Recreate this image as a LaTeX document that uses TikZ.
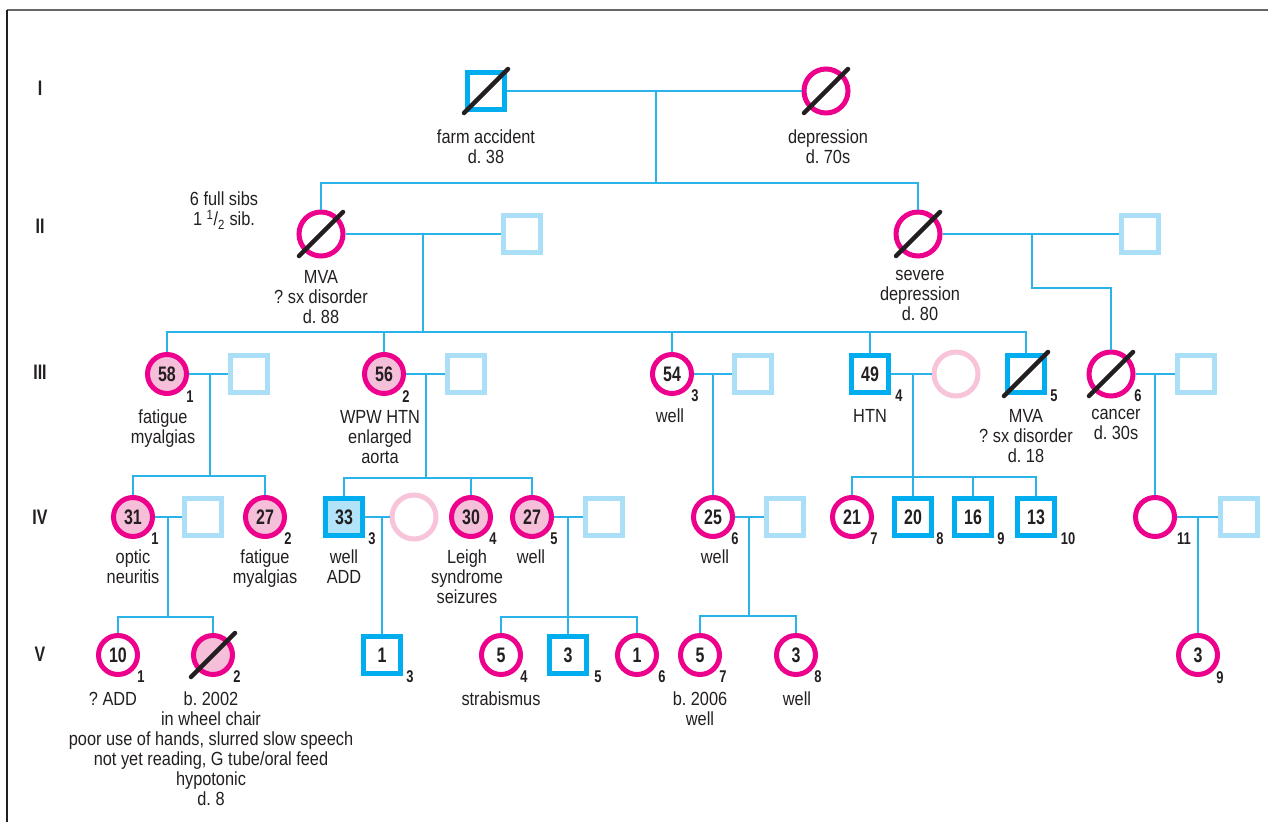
\documentclass[tikz,border=0pt]{standalone}
\usepackage{fontspec}
\setmainfont{Liberation Sans}[FakeStretch=0.86]
\newfontfamily\numfont{Liberation Sans}[FakeStretch=0.76]
\usetikzlibrary{calc}
\frenchspacing
\definecolor{mag}{HTML}{EC008C}
\definecolor{pinkfill}{HTML}{F5BFD9}
\definecolor{lpink}{HTML}{F7C4DA}
\definecolor{dblue}{HTML}{00AEEF}
\definecolor{lblue}{HTML}{ABDFF7}
\definecolor{lbfill}{HTML}{B3E3F8}
\definecolor{cline}{HTML}{29B3E8}
\definecolor{ink}{HTML}{231F20}
\definecolor{framegray}{HTML}{666666}
\tikzset{
 conn/.style={draw=cline, line width=1.3pt},
 fem/.style={circle, draw=mag, line width=5pt, minimum size=39pt, inner sep=0pt, fill=white, text=ink, font=\numfont\bfseries\fontsize{21}{21}\selectfont},
 femA/.style={fem, fill=pinkfill},
 femD/.style={fem, minimum size=44pt},
 mal/.style={rectangle, draw=dblue, line width=5pt, minimum size=37pt, inner sep=0pt, fill=white, text=ink, font=\numfont\bfseries\fontsize{21}{21}\selectfont},
 spm/.style={rectangle, draw=lblue, line width=5pt, minimum size=37pt, inner sep=0pt, fill=white},
 spf/.style={circle, draw=lpink, line width=5pt, minimum size=44pt, inner sep=0pt, fill=white},
 idx/.style={font=\numfont\bfseries\fontsize{17}{17}\selectfont, text=ink, inner sep=0pt},
 txt/.style={font=\fontsize{19}{20}\selectfont, text=ink, align=center, inner sep=0pt, anchor=north},
 gen/.style={font=\numfont\bfseries\fontsize{21}{21}\selectfont, text=ink, inner sep=0pt},
 dead/.style={line width=4.5pt, draw=ink, line cap=round},
}
\newcommand\slashit[1]{\draw[dead] ([shift={(-22,22)}]#1.center) -- ([shift={(22,-22)}]#1.center);}
\begin{document}
\begin{tikzpicture}[x=1pt,y=-1pt]
\useasboundingbox (0,0) rectangle (1268,822);
% frame
\draw[line width=2pt, draw=framegray] (7,10) -- (1268,10);
\draw[line width=1.5pt, draw=ink] (7,10) -- (7,822);
% generation labels
\node[gen] (g1) at (40,88) {I};
\node[gen] (g2) at (40,226) {II};
\node[gen] (g3) at (40,372) {III};
\node[gen] (g4) at (40,517) {IV};
\node[gen] (g5) at (40,654) {V};
% ---------- coordinates
\coordinate (m1) at (656,91);
\coordinate (s1) at (656,183);
\coordinate (m2) at (423,234);
\coordinate (s2) at (423,332);
\coordinate (m3) at (1032,234);
\coordinate (k3) at (1032,288);
\coordinate (m31) at (210,374);
\coordinate (s31) at (210,476);
\coordinate (m32) at (426,374);
\coordinate (s32) at (426,478);
\coordinate (m33) at (713,374);
\coordinate (m34) at (913,374);
\coordinate (s34) at (913,477);
\coordinate (m36) at (1155,374);
\coordinate (m41) at (168,517);
\coordinate (s41) at (168,617);
\coordinate (m43) at (382,517);
\coordinate (m45) at (568,517);
\coordinate (s45) at (568,617);
\coordinate (m46) at (749,517);
\coordinate (s46) at (749,616);
\coordinate (m411) at (1198,517);
% ---------- Generation I
\node[mal] (i1) at (486,91) {};
\node[femD] (i2) at (826,91) {};
% ---------- Generation II
\node[femD] (ii1) at (321,234) {};
\node[spm] (ii2) at (522,234) {};
\node[femD] (ii3) at (918,234) {};
\node[spm] (ii4) at (1140,234) {};
% ---------- Generation III
\node[femA] (iii1) at (167,374) {58};
\node[spm] (iii1s) at (249,374) {};
\node[femA] (iii2) at (384,374) {56};
\node[spm] (iii2s) at (466,374) {};
\node[fem] (iii3) at (672,374) {54};
\node[spm] (iii3s) at (753,374) {};
\node[mal] (iii4) at (870,374) {49};
\node[spf] (iii4w) at (956,374) {};
\node[mal] (iii5) at (1026,374) {};
\node[femD] (iii6) at (1111,374) {};
\node[spm] (iii6s) at (1196,374) {};
% ---------- Generation IV
\node[femA] (iv1) at (133,517) {31};
\node[spm] (iv1s) at (203,517) {};
\node[femA] (iv2) at (265,517) {27};
\node[mal, fill=lbfill] (iv3) at (344,517) {33};
\node[spf] (iv3w) at (414,517) {};
\node[femA] (iv4) at (471,517) {30};
\node[femA] (iv5) at (532,517) {27};
\node[spm] (iv5s) at (604,517) {};
\node[fem] (iv6) at (713,517) {25};
\node[spm] (iv6s) at (785,517) {};
\node[fem] (iv7) at (852,517) {21};
\node[mal] (iv8) at (913,517) {20};
\node[mal] (iv9) at (973,517) {16};
\node[mal] (iv10) at (1036,517) {13};
\node[fem] (iv11) at (1155,517) {};
\node[spm] (iv11s) at (1239,517) {};
% ---------- Generation V
\node[fem] (v1) at (118,655) {10};
\node[femA] (v2) at (213,655) {};
\node[mal] (v3) at (382,655) {1};
\node[fem] (v4) at (501,655) {5};
\node[mal] (v5) at (568,655) {3};
\node[fem] (v6) at (637,655) {1};
\node[fem] (v7) at (700,655) {5};
\node[fem] (v8) at (796,655) {3};
\node[fem] (v9) at (1198,655) {3};
% ---------- connectors
\draw[conn] (i1) -- (i2);
\draw[conn] (m1) -- (s1);
\draw[conn] (ii1.north) |- (s1) -| (ii3.north);
\draw[conn] (ii1) -- (ii2);
\draw[conn] (m2) -- (s2);
\draw[conn] (iii1.north) |- (s2) -| (iii5.north);
\draw[conn] (iii2.north) -- (iii2.north |- s2);
\draw[conn] (iii3.north) -- (iii3.north |- s2);
\draw[conn] (iii4.north) -- (iii4.north |- s2);
\draw[conn] (ii3) -- (ii4);
\draw[conn] (m3) -- (k3) -| (iii6.north);
\draw[conn] (iii1) -- (iii1s);
\draw[conn] (m31) -- (s31);
\draw[conn] (iv1.north) |- (s31) -| (iv2.north);
\draw[conn] (iii2) -- (iii2s);
\draw[conn] (m32) -- (s32);
\draw[conn] (iv3.north) |- (s32) -| (iv5.north);
\draw[conn] (iv4.north) -- (iv4.north |- s32);
\draw[conn] (iii3) -- (iii3s);
\draw[conn] (m33) -- (iv6.north);
\draw[conn] (iii4) -- (iii4w);
\draw[conn] (m34) -- (s34);
\draw[conn] (iv7.north) |- (s34) -| (iv10.north);
\draw[conn] (iv8.north) -- (iv8.north |- s34);
\draw[conn] (iv9.north) -- (iv9.north |- s34);
\draw[conn] (iii6) -- (iii6s);
\draw[conn] (m36) -- (iv11.north);
\draw[conn] (iv1) -- (iv1s);
\draw[conn] (m41) -- (s41);
\draw[conn] (v1.north) |- (s41) -| (v2.north);
\draw[conn] (iv3) -- (iv3w);
\draw[conn] (m43) -- (v3.north);
\draw[conn] (iv5) -- (iv5s);
\draw[conn] (m45) -- (s45);
\draw[conn] (v4.north) |- (s45) -| (v6.north);
\draw[conn] (v5.north) -- (v5.north |- s45);
\draw[conn] (iv6) -- (iv6s);
\draw[conn] (m46) -- (s46);
\draw[conn] (v7.north) |- (s46) -| (v8.north);
\draw[conn] (iv11) -- (iv11s);
\draw[conn] (m411) -- (v9.north);
% ---------- deceased slashes
\slashit{i1}
\slashit{i2}
\slashit{ii1}
\slashit{ii3}
\slashit{iii5}
\slashit{iii6}
\slashit{v2}
% ---------- index numbers
\node[idx] (iii1i) at (190,397) {1};
\node[idx] (iii2i) at (406,397) {2};
\node[idx] (iii3i) at (695,396) {3};
\node[idx] (iii4i) at (899,396) {4};
\node[idx] (iii5i) at (1054,396) {5};
\node[idx] (iii6i) at (1138,396) {6};
\node[idx] (iv1i) at (155,539) {1};
\node[idx] (iv2i) at (288,539) {2};
\node[idx] (iv3i) at (372,539) {3};
\node[idx] (iv4i) at (493,539) {4};
\node[idx] (iv5i) at (554,539) {5};
\node[idx] (iv6i) at (735,539) {6};
\node[idx] (iv7i) at (874,539) {7};
\node[idx] (iv8i) at (940,539) {8};
\node[idx] (iv9i) at (1001,539) {9};
\node[idx] (iv10i) at (1068,539) {10};
\node[idx] (iv11i) at (1184,539) {11};
\node[idx] (v1i) at (141,677) {1};
\node[idx] (v2i) at (237,677) {2};
\node[idx] (v3i) at (410,677) {3};
\node[idx] (v4i) at (524,677) {4};
\node[idx] (v5i) at (598,677) {5};
\node[idx] (v6i) at (662,677) {6};
\node[idx] (v7i) at (723,677) {7};
\node[idx] (v8i) at (818,677) {8};
\node[idx] (v9i) at (1220,678) {9};
% ---------- texts
\node[txt] (ti1) at (486,130) {farm accident\\d. 38};
\node[txt] (ti2) at (828,130) {depression\\d. 70s};
\node[txt] (tsibs) at (224,192) {6 full sibs\\1 \textsuperscript{1}/\textsubscript{2} sib.};
\node[txt] (tii1) at (321,270) {MVA\\? sx disorder\\d. 88};
\node[txt] (tii3) at (920,270) {severe\\depression\\d. 80};
\node[txt] (tiii1) at (163,410) {fatigue\\myalgias};
\node[txt] (tiii2) at (380,410) {WPW HTN\\enlarged\\aorta};
\node[txt] (tiii3) at (670,409) {well};
\node[txt] (tiii4) at (870,409) {HTN};
\node[txt] (tiii5) at (1026,409) {MVA\\? sx disorder\\d. 18};
\node[txt] (tiii6) at (1116,409) {cancer\\d. 30s};
\node[txt] (tiv1) at (133,550) {optic\\neuritis};
\node[txt] (tiv2) at (265,550) {fatigue\\myalgias};
\node[txt] (tiv3) at (344,550) {well\\ADD};
\node[txt] (tiv4) at (467,550) {Leigh\\syndrome\\seizures};
\node[txt] (tiv5) at (531,550) {well};
\node[txt] (tiv6) at (715,550) {well};
\node[txt] (tv1) at (113,692) {? ADD};
\node[txt] (tv2) at (211,692) {b. 2002\\in wheel chair\\poor use of hands, slurred slow speech\\not yet reading, G tube/oral feed\\hypotonic\\d. 8};
\node[txt] (tv4) at (501,692) {strabismus};
\node[txt] (tv7) at (700,692) {b. 2006\\well};
\node[txt] (tv8) at (797,692) {well};
\end{tikzpicture}
\end{document}
